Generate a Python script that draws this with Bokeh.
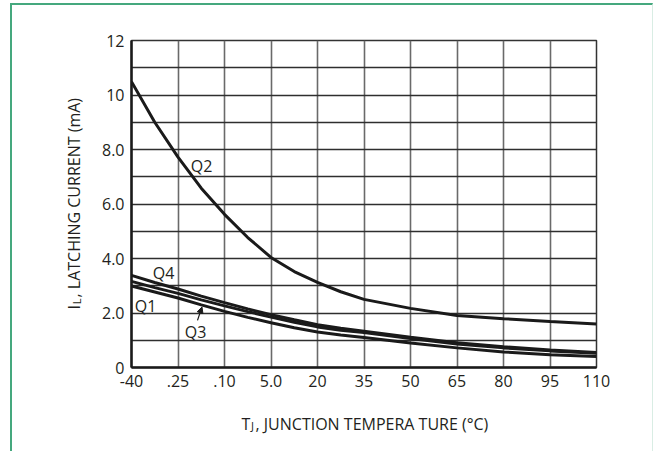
import math
from bokeh.plotting import figure
from bokeh.models import Range1d, FixedTicker, Label, Arrow, NormalHead
from bokeh.embed import file_html
from bokeh.resources import INLINE

# ---- data ----
temps = [-40, -32.5, -25, -17.5, -10, -2.5, 5, 12.5, 20, 27.5, 35, 50, 65, 80, 95, 110]
q2 = [10.49, 9.00, 7.72, 6.58, 5.62, 4.77, 4.04, 3.52, 3.12, 2.78, 2.50, 2.17, 1.91, 1.79, 1.69, 1.60]
q4 = [3.38, 3.12, 2.88, 2.62, 2.38, 2.15, 1.94, 1.75, 1.57, 1.44, 1.33, 1.11, 0.91, 0.76, 0.64, 0.55]
q3 = [3.16, 2.93, 2.72, 2.48, 2.26, 2.05, 1.85, 1.66, 1.49, 1.37, 1.28, 1.06, 0.86, 0.72, 0.61, 0.52]
q1 = [2.99, 2.77, 2.55, 2.30, 2.06, 1.84, 1.64, 1.46, 1.30, 1.19, 1.10, 0.90, 0.72, 0.57, 0.47, 0.40]

x_ticks = [-40, -25, -10, 5, 20, 35, 50, 65, 80, 95, 110]
x_tick_labels = ["-40", ".25", ".10", "5.0", "20", "35", "50", "65", "80", "95", "110"]
y_ticks = [0, 2, 4, 6, 8, 10, 12]
y_tick_labels = ["0", "2.0", "4.0", "6.0", "8.0", "10", "12"]
y_grid = [0, 1, 2, 3, 4, 5, 6, 7, 8, 9, 10, 11, 12]

FONT = "Open Sans"
INK = "#1a1a1a"

p = figure(width=643, height=448, output_backend="svg", toolbar_location=None,
           x_range=Range1d(-40, 110), y_range=Range1d(0, 12),
           min_border_left=119, min_border_right=59, min_border_top=35,
           min_border_bottom=86)
p.styles = {"border-left": "2px solid #45a87e", "border-top": "2px solid #45a87e",
            "border-right": "1px solid #d9ede4",
            "margin-top": "3px", "margin-left": "10px"}

p.background_fill_color = "white"
p.border_fill_color = "white"
p.outline_line_color = "#333333"
p.outline_line_width = 1.5

# grid
p.xgrid.ticker = FixedTicker(ticks=x_ticks)
p.ygrid.ticker = FixedTicker(ticks=y_grid)
p.xgrid.grid_line_color = "#6a6a6a"
p.xgrid.grid_line_width = 1.6
p.ygrid.grid_line_color = "#2e2e2e"
p.ygrid.grid_line_width = 1.3

# axes
p.xaxis.ticker = FixedTicker(ticks=x_ticks)
p.xaxis.major_label_overrides = {t: s for t, s in zip(x_ticks, x_tick_labels)}
p.yaxis.ticker = FixedTicker(ticks=y_ticks)
p.yaxis.major_label_overrides = {t: s for t, s in zip(y_ticks, y_tick_labels)}
for ax in (p.xaxis[0], p.yaxis[0]):
    ax.major_tick_in = 0
    ax.major_tick_out = 0
    ax.minor_tick_in = 0
    ax.minor_tick_out = 0
    ax.axis_line_width = 2.5
    ax.axis_line_color = INK
    ax.major_label_text_font = FONT
    ax.major_label_text_font_size = "16px"
    ax.major_label_text_color = "#231f20"
    ax.major_label_standoff = 7

# curves
for ys in (q2, q4, q3, q1):
    p.line(temps, ys, line_width=3, color=INK)

def lab(x, y, text, size="16px", align="center", baseline="middle", angle=0,
        side=None, **kw):
    l = Label(x=x, y=y, text=text, text_font=FONT, text_font_size=size,
              text_color="#231f20", text_align=align,
              text_baseline=baseline, angle=angle, **kw)
    if side is None:
        p.add_layout(l)
    else:
        p.add_layout(l, side)

# series labels
lab(-17.42, 7.39, "Q2")
lab(-29.68, 3.46, "Q4")
lab(-35.48, 2.24, "Q1")
lab(-19.35, 1.30, "Q3")
p.add_layout(Arrow(end=NormalHead(size=6, line_color=INK, fill_color=INK),
                   x_start=-18.71, y_start=1.73, x_end=-17.26, y_end=2.22,
                   line_color=INK, line_width=1.2))

# x-axis title: T_J, JUNCTION TEMPERA TURE (°C)
lab(-4.52, -2.058, "T", align="left", baseline="alphabetic", side="below")
lab(-1.45, -2.132, "J", size="11px", align="left", baseline="alphabetic", side="below")
lab(0.0, -2.058, ", JUNCTION TEMPERA TURE (°C)", align="left", baseline="alphabetic",
    side="below")

# y-axis title: I_L, LATCHING CURRENT (mA)
lab(-58.39, 2.13, "I", align="left", baseline="alphabetic", angle=math.pi / 2, side="left")
lab(-57.74, 2.32, "L", size="11px", align="left", baseline="alphabetic",
    angle=math.pi / 2, side="left")
lab(-58.39, 2.57, ", LATCHING CURRENT (mA)", align="left", baseline="alphabetic",
    angle=math.pi / 2, side="left")

open("out.html", "w").write(file_html(p, INLINE))
